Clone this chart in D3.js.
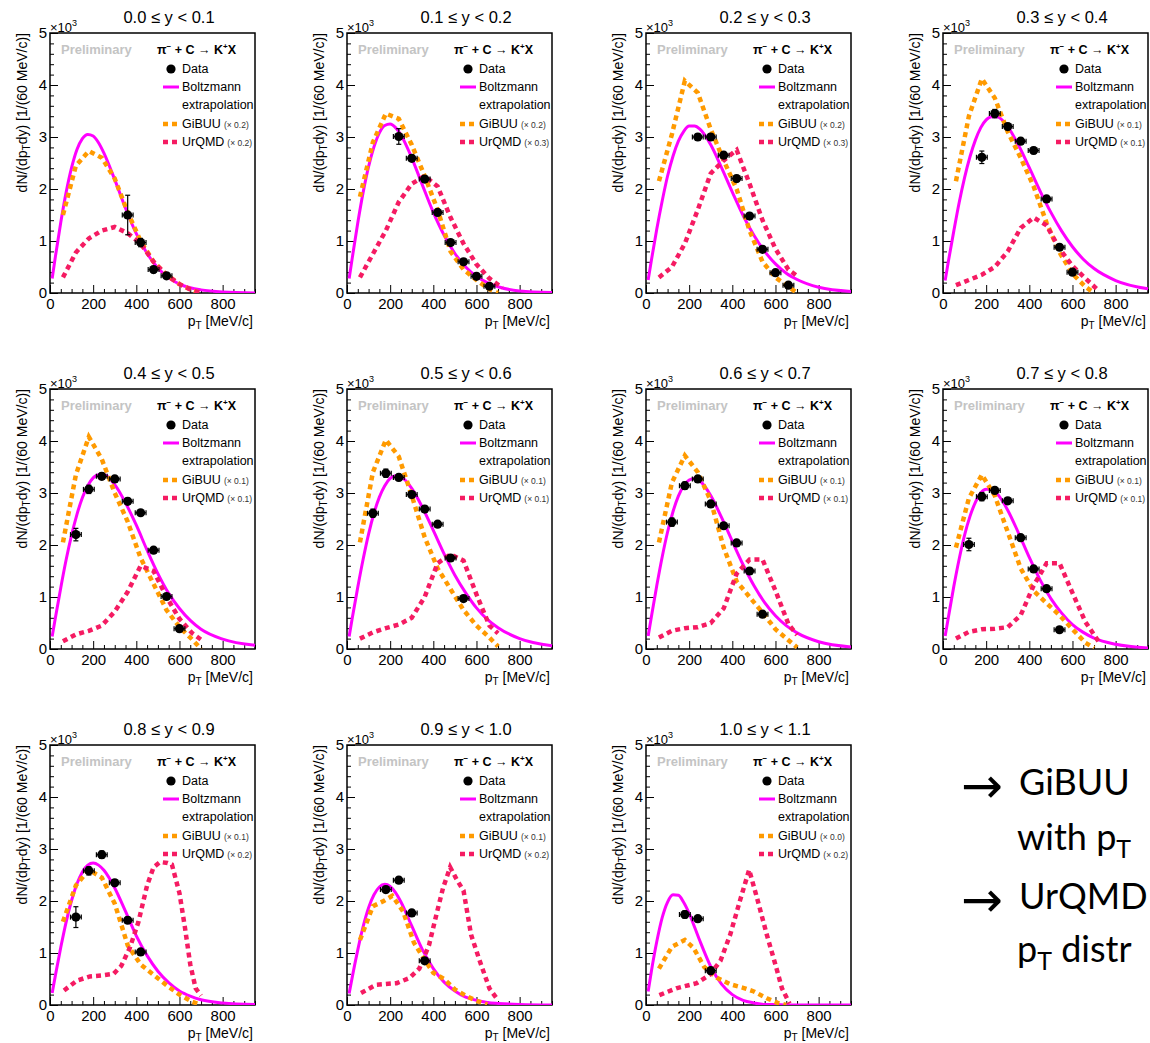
<!DOCTYPE html>
<html><head><meta charset="utf-8">
<script src="https://cdn.jsdelivr.net/npm/d3@7"></script>
<style>
body{margin:0;background:#fff;}
svg{display:block;font-family:"Liberation Sans",Arial,Helvetica,sans-serif;}
</style>
</head><body>
<svg id="c" width="1150" height="1043"></svg>
<script>
// ---------------- data ----------------
const titles = ["0.0 ≤ y < 0.1","0.1 ≤ y < 0.2","0.2 ≤ y < 0.3","0.3 ≤ y < 0.4",
  "0.4 ≤ y < 0.5","0.5 ≤ y < 0.6","0.6 ≤ y < 0.7","0.7 ≤ y < 0.8",
  "0.8 ≤ y < 0.9","0.9 ≤ y < 1.0","1.0 ≤ y < 1.1"];
const xTicks = [0,200,400,600,800];
const yTicks = [0,1,2,3,4,5];
const gibuuScale = ["0.2","0.2","0.2","0.1","0.1","0.1","0.1","0.1","0.1","0.1","0.0"];
const urqmdScale = ["0.2","0.3","0.3","0.1","0.1","0.1","0.1","0.1","0.2","0.2","0.2"];

const dataX = [
  [360,420,480,540],
  [240,300,360,420,480,540,600,660],
  [240,300,360,420,480,540,600,660],
  [180,240,300,360,420,480,540,600],
  [120,180,240,300,360,420,480,540,600],
  [120,180,240,300,360,420,480,540],
  [120,180,240,300,360,420,480,540],
  [120,180,240,300,360,420,480,540],
  [120,180,240,300,360,420],
  [180,240,300,360],
  [180,240,300]];
const dataY = [
  [1.5,0.97,0.45,0.33],
  [3.01,2.59,2.19,1.55,0.97,0.6,0.32,0.13],
  [3.0,3.0,2.65,2.2,1.48,0.84,0.39,0.15],
  [2.61,3.45,3.2,2.92,2.74,1.81,0.88,0.4],
  [2.2,3.07,3.32,3.27,2.84,2.62,1.9,1.01,0.39],
  [2.61,3.38,3.3,2.97,2.69,2.4,1.75,0.97],
  [2.44,3.14,3.27,2.79,2.37,2.04,1.5,0.67],
  [2.01,2.93,3.05,2.85,2.14,1.54,1.16,0.37],
  [1.69,2.58,2.89,2.35,1.63,1.02],
  [2.22,2.4,1.77,0.85],
  [1.74,1.66,0.66]];
const dataErr = [
  [0.38,0.08,0.06,0.05],
  [0.15,0.06,0.06,0.05,0.05,0.04,0.04,0.03],
  [0.06,0.06,0.06,0.06,0.05,0.05,0.04,0.03],
  [0.12,0.08,0.06,0.06,0.06,0.05,0.05,0.04],
  [0.12,0.08,0.06,0.06,0.06,0.05,0.05,0.05,0.04],
  [0.08,0.08,0.06,0.06,0.06,0.05,0.05,0.05],
  [0.08,0.07,0.06,0.06,0.05,0.05,0.05,0.04],
  [0.12,0.08,0.06,0.06,0.06,0.05,0.05,0.04],
  [0.2,0.08,0.07,0.06,0.06,0.05],
  [0.06,0.06,0.06,0.05],
  [0.07,0.06,0.06]];

const boltzX = [10,25,50,75,100,125,150,175,200,225,250,300,350,400,450,500,550,600,650,700,800,950];
const boltzY = [
  [0.28,0.70,1.36,1.94,2.41,2.76,2.97,3.05,3.02,2.89,2.69,2.18,1.63,1.14,0.76,0.48,0.29,0.17,0.10,0.06,0.02,0.00],
  [0.28,0.69,1.35,1.94,2.43,2.81,3.08,3.22,3.25,3.18,3.04,2.60,2.07,1.55,1.11,0.76,0.50,0.32,0.20,0.12,0.04,0.01],
  [0.25,0.63,1.23,1.77,2.25,2.63,2.92,3.11,3.21,3.21,3.15,2.85,2.41,1.94,1.49,1.11,0.80,0.56,0.38,0.26,0.11,0.03],
  [0.24,0.61,1.19,1.74,2.22,2.62,2.94,3.18,3.33,3.39,3.39,3.20,2.84,2.41,1.96,1.55,1.19,0.89,0.65,0.47,0.24,0.08],
  [0.24,0.60,1.18,1.72,2.19,2.59,2.91,3.14,3.29,3.35,3.35,3.16,2.81,2.38,1.90,1.45,1.07,0.78,0.55,0.38,0.19,0.07],
  [0.24,0.61,1.19,1.73,2.21,2.61,2.92,3.14,3.28,3.33,3.31,3.09,2.72,2.28,1.83,1.42,1.08,0.79,0.57,0.41,0.20,0.06],
  [0.25,0.62,1.22,1.77,2.25,2.64,2.94,3.14,3.25,3.28,3.23,2.95,2.53,2.07,1.62,1.22,0.89,0.64,0.45,0.31,0.14,0.04],
  [0.25,0.61,1.20,1.73,2.19,2.55,2.82,3.00,3.07,3.07,2.99,2.67,2.23,1.76,1.33,0.97,0.69,0.47,0.32,0.21,0.09,0.02],
  [0.23,0.57,1.11,1.60,2.01,2.33,2.56,2.69,2.73,2.69,2.59,2.25,1.80,1.33,0.95,0.65,0.43,0.27,0.17,0.10,0.04,0.01],
  [0.22,0.55,1.06,1.51,1.87,2.12,2.27,2.32,2.28,2.16,1.98,1.52,1.06,0.70,0.44,0.27,0.15,0.09,0.05,0.03,0.01,0.00],
  [0.26,0.65,1.22,1.68,1.98,2.12,2.11,1.97,1.76,1.50,1.23,0.74,0.40,0.20,0.09,0.04,0.01,0.01,0.00,0.00,0.00,0.00]];

const gibuuX = [
  [60,120,180,240,300,360,420,480,540,600,660,700],
  [60,120,180,240,300,360,420,480,540,600,660,700],
  [60,120,180,240,300,360,420,480,540,600,660,700],
  [60,120,180,240,300,360,420,480,540,600,660,700],
  [60,120,180,240,300,360,420,480,540,600,660,700],
  [60,120,180,240,300,360,420,480,540,600,660,700],
  [60,120,180,240,300,360,420,480,540,600,660,700],
  [60,120,180,240,300,360,420,480,540,600,660,700],
  [60,120,180,240,300,360,420,480,540,600,660,700],
  [60,120,170,210,260,310,355,400,450,500,550,600,650],
  [60,120,180,220,270,330,390,450,500,560,610,650]];
const gibuuY = [
  [1.5,2.45,2.73,2.6,2.2,1.55,1.0,0.6,0.35,0.17,0.05,0.0],
  [1.85,2.9,3.45,3.35,2.85,2.25,1.6,0.8,0.45,0.25,0.07,0.0],
  [2.15,3.05,4.08,3.85,3.15,2.55,2.0,1.2,0.6,0.3,0.12,0.0],
  [2.15,3.4,4.12,3.75,3.1,2.6,2.05,1.35,0.78,0.37,0.12,0.0],
  [2.05,3.35,4.08,3.65,3.0,2.45,1.75,1.25,0.75,0.42,0.18,0.0],
  [2.05,3.4,4.02,3.7,2.95,2.15,1.55,1.15,0.75,0.45,0.22,0.05],
  [2.05,3.2,3.72,3.4,2.85,1.95,1.3,1.0,0.7,0.38,0.17,0.03],
  [1.95,2.9,3.35,2.95,2.25,1.55,1.12,0.88,0.65,0.38,0.12,0.02],
  [1.6,2.3,2.6,2.45,1.95,1.15,0.78,0.58,0.38,0.2,0.06,0.0],
  [1.25,1.9,2.0,2.1,1.8,1.2,0.9,0.62,0.5,0.3,0.18,0.08,0.01],
  [0.7,1.12,1.25,1.1,0.73,0.52,0.4,0.33,0.26,0.13,0.04,0.0]];

const urqmdX = [
  [60,120,180,240,300,360,420,480,540,600,660,700],
  [60,120,180,240,300,360,420,480,540,600,660,720],
  [60,120,180,240,300,360,420,480,540,600,660,700],
  [60,120,180,240,300,360,420,480,540,600,660,720],
  [60,120,180,240,300,360,420,480,540,600,660,700],
  [60,120,180,240,300,360,420,480,540,600,660,700],
  [60,120,180,240,300,360,420,480,540,600,660,700],
  [60,120,180,240,300,360,420,480,540,600,660,720],
  [65,125,185,245,295,330,370,410,450,480,510,545,565,600,625,650,675,700],
  [65,135,230,290,335,380,415,445,478,510,540,575,615,660,695],
  [62,140,235,295,345,390,435,478,515,560,605,630,665]];
const urqmdY = [
  [0.3,0.78,1.05,1.2,1.27,1.15,0.95,0.6,0.35,0.17,0.05,0.0],
  [0.3,0.75,1.2,1.75,2.1,2.25,2.05,1.45,0.95,0.55,0.28,0.1],
  [0.3,0.5,0.95,1.6,2.3,2.55,2.75,2.1,1.4,0.85,0.45,0.33],
  [0.15,0.25,0.35,0.5,0.8,1.25,1.45,1.3,0.85,0.52,0.28,0.05],
  [0.15,0.28,0.35,0.45,0.72,1.1,1.6,1.5,1.0,0.58,0.3,0.18],
  [0.2,0.32,0.4,0.47,0.6,1.0,1.65,1.82,1.7,1.05,0.45,0.3],
  [0.22,0.35,0.4,0.42,0.5,0.78,1.45,1.72,1.72,1.12,0.48,0.27],
  [0.2,0.33,0.38,0.39,0.42,0.65,1.22,1.65,1.65,1.08,0.52,0.15],
  [0.28,0.47,0.55,0.57,0.6,0.75,1.1,1.6,2.3,2.65,2.75,2.73,2.7,2.15,1.5,0.78,0.32,0.18],
  [0.23,0.39,0.42,0.52,0.7,1.15,1.75,2.25,2.65,2.4,2.2,1.35,0.85,0.32,0.12],
  [0.19,0.32,0.42,0.58,0.85,1.35,2.0,2.6,2.05,1.35,0.7,0.32,0.03]];

const noteLines = [
  {arrow:true,  parts:[["GiBUU",false]]},
  {arrow:false, parts:[["with p",false],["T",true]]},
  {arrow:true,  parts:[["UrQMD",false]]},
  {arrow:false, parts:[["p",false],["T",true],[" distr",false]]}];

// ---------------- drawing ----------------
const svg = d3.select("#c");
const colLeft = [50,347,646,943], rowTop = [33,389,745];
const W = 205, H = 260;
const cMag = "#ff00ff", cOra = "#ff9a00", cPink = "#f51b62";
const FF = "Liberation Sans, Arial, sans-serif";

titles.forEach((title,i)=>{
  const L = colLeft[i%4], T = rowTop[Math.floor(i/4)];
  const x = d3.scaleLinear().domain([0,950]).range([L,L+W]);
  const y = d3.scaleLinear().domain([0,5]).range([T+H,T]);
  const g = svg.append("g");
  const clipId = "clip"+i;
  g.append("clipPath").attr("id",clipId).append("rect")
    .attr("x",L).attr("y",T).attr("width",W).attr("height",H);

  // axes (ticks inward, ROOT style)
  const xMinor = d3.range(50,951,50).filter(v=>v%200!==0);
  const ax1 = g.append("g").attr("transform",`translate(0,${T+H})`)
    .call(d3.axisBottom(x).tickValues(xMinor).tickSize(-4).tickFormat(""));
  ax1.select(".domain").remove();
  const ax2 = g.append("g").attr("transform",`translate(0,${T+H})`)
    .call(d3.axisBottom(x).tickValues(xTicks).tickSize(-8).tickPadding(5).tickFormat(d3.format("d")));
  ax2.select(".domain").remove();
  ax2.selectAll("text").attr("font-size",15).attr("font-family",FF).attr("fill","#000");

  const yMinor = d3.range(1,25).map(v=>v*0.2).filter(v=>Math.abs(v-Math.round(v))>1e-6);
  const ay1 = g.append("g").attr("transform",`translate(${L},0)`)
    .call(d3.axisLeft(y).tickValues(yMinor).tickSize(-4).tickFormat(""));
  ay1.select(".domain").remove();
  const ay2 = g.append("g").attr("transform",`translate(${L},0)`)
    .call(d3.axisLeft(y).tickValues(yTicks).tickSize(-8).tickPadding(3).tickFormat(d3.format("d")));
  ay2.select(".domain").remove();
  ay2.selectAll("text").attr("font-size",15).attr("font-family",FF).attr("fill","#000");
  g.selectAll(".tick line").attr("stroke","#000").attr("stroke-width",1);

  // frame
  g.append("rect").attr("x",L).attr("y",T).attr("width",W).attr("height",H)
    .attr("fill","none").attr("stroke","#000").attr("stroke-width",1.5);

  // title
  g.append("text").attr("x",L+119).attr("y",T-10).attr("text-anchor","middle")
    .attr("font-size",16.5).text(title);

  // x10^3
  const e = g.append("text").attr("x",L).attr("y",T-1).attr("font-size",13);
  e.append("tspan").text("×10");
  e.append("tspan").attr("dy",-6).attr("font-size",9).text("3");

  // y title
  const yt = g.append("text").attr("transform",`translate(${L-23},${T}) rotate(-90)`)
    .attr("text-anchor","end").attr("font-size",14);
  yt.append("tspan").text("dN/(dp");
  yt.append("tspan").attr("dy",3).attr("font-size",10).text("T");
  yt.append("tspan").attr("dy",-3).text("dy) [1/(60 MeV/c)]");

  // x title
  const xt = g.append("text").attr("x",L+W-2).attr("y",T+H+33)
    .attr("text-anchor","end").attr("font-size",14);
  xt.append("tspan").text("p");
  xt.append("tspan").attr("dy",3).attr("font-size",10).text("T");
  xt.append("tspan").attr("dy",-3).text(" [MeV/c]");

  // curves
  const cg = g.append("g").attr("clip-path",`url(#${clipId})`);
  const line = d3.line().x(d=>x(d[0])).y(d=>y(d[1]));
  cg.append("path").datum(boltzX.map((v,k)=>[v,boltzY[i][k]]))
    .attr("d",line.curve(d3.curveMonotoneX)).attr("fill","none")
    .attr("stroke",cMag).attr("stroke-width",3);
  const lin = d3.line().x(d=>x(d[0])).y(d=>y(d[1])).curve(d3.curveLinear);
  cg.append("path").datum(gibuuX[i].map((v,k)=>[v,gibuuY[i][k]]))
    .attr("d",lin).attr("fill","none").attr("stroke",cOra)
    .attr("stroke-width",4.5).attr("stroke-dasharray","5,4");
  cg.append("path").datum(urqmdX[i].map((v,k)=>[v,urqmdY[i][k]]))
    .attr("d",lin).attr("fill","none").attr("stroke",cPink)
    .attr("stroke-width",4.5).attr("stroke-dasharray","5,4");

  // data points with errors
  const dg = g.append("g");
  dataX[i].forEach((px,k)=>{
    const py = dataY[i][k], er = dataErr[i][k];
    const cx = x(px), cy = y(py);
    dg.append("line").attr("x1",x(px-25)).attr("x2",x(px+25)).attr("y1",cy).attr("y2",cy)
      .attr("stroke","#000").attr("stroke-width",1.2);
    [px-25,px+25].forEach(ex=>dg.append("line").attr("x1",x(ex)).attr("x2",x(ex))
      .attr("y1",cy-2.5).attr("y2",cy+2.5).attr("stroke","#000").attr("stroke-width",1.2));
    dg.append("line").attr("x1",cx).attr("x2",cx).attr("y1",y(py-er)).attr("y2",y(py+er))
      .attr("stroke","#000").attr("stroke-width",1.2);
    [py-er,py+er].forEach(ey=>dg.append("line").attr("x1",cx-2.5).attr("x2",cx+2.5)
      .attr("y1",y(ey)).attr("y2",y(ey)).attr("stroke","#000").attr("stroke-width",1.2));
    dg.append("circle").attr("cx",cx).attr("cy",cy).attr("r",4.6).attr("fill","#000");
  });

  // legend
  g.append("text").attr("x",L+11).attr("y",T+21).attr("font-size",13)
    .attr("font-weight","bold").attr("fill","#c4c4c4").text("Preliminary");
  const rx = g.append("text").attr("x",L+107).attr("y",T+21).attr("font-size",12.5).attr("font-weight","bold");
  rx.append("tspan").text("π");
  rx.append("tspan").attr("dy",-5).attr("font-size",8).text("−");
  rx.append("tspan").attr("dy",5).text(" + C  → K");
  rx.append("tspan").attr("dy",-5).attr("font-size",8).text("+");
  rx.append("tspan").attr("dy",5).text("X");

  g.append("circle").attr("cx",L+121).attr("cy",T+36).attr("r",4.6).attr("fill","#000");
  g.append("text").attr("x",L+132).attr("y",T+40).attr("font-size",12.5).text("Data");
  g.append("line").attr("x1",L+113).attr("x2",L+129).attr("y1",T+54).attr("y2",T+54)
    .attr("stroke",cMag).attr("stroke-width",3);
  g.append("text").attr("x",L+132).attr("y",T+58).attr("font-size",12.5).text("Boltzmann");
  g.append("text").attr("x",L+132).attr("y",T+76).attr("font-size",12.5).text("extrapolation");
  g.append("line").attr("x1",L+113).attr("x2",L+129).attr("y1",T+91).attr("y2",T+91)
    .attr("stroke",cOra).attr("stroke-width",4.5).attr("stroke-dasharray","5,4");
  const gl = g.append("text").attr("x",L+132).attr("y",T+95).attr("font-size",12.5);
  gl.append("tspan").text("GiBUU");
  gl.append("tspan").attr("dx",3).attr("font-size",8.5).attr("fill","#333").text(`(× ${gibuuScale[i]})`);
  g.append("line").attr("x1",L+113).attr("x2",L+129).attr("y1",T+109).attr("y2",T+109)
    .attr("stroke",cPink).attr("stroke-width",4.5).attr("stroke-dasharray","5,4");
  const ul = g.append("text").attr("x",L+132).attr("y",T+113).attr("font-size",12.5);
  ul.append("tspan").text("UrQMD");
  ul.append("tspan").attr("dx",3).attr("font-size",8.5).attr("fill","#333").text(`(× ${urqmdScale[i]})`);
});

// side notes
const noteBase = [803,858,917,970];
noteLines.forEach((ln,k)=>{
  if (ln.arrow) {
    svg.append("text").attr("x",961).attr("y",noteBase[k])
      .attr("font-family","DejaVu Sans").attr("font-size",50).attr("fill","#000").text("→");
  }
  const t = svg.append("text").attr("x", ln.arrow ? 1019 : 1017).attr("y",noteBase[k])
    .attr("font-family","Lato, 'Open Sans', sans-serif").attr("font-size",36).attr("fill","#000");
  ln.parts.forEach(([s,sub])=>{
    if (sub) t.append("tspan").attr("dy",8).attr("font-size",25).text(s);
    else t.append("tspan").attr("dy", t.selectAll("tspan").size()>0 ? -8 : 0).text(s);
  });
});
</script>
</body></html>
